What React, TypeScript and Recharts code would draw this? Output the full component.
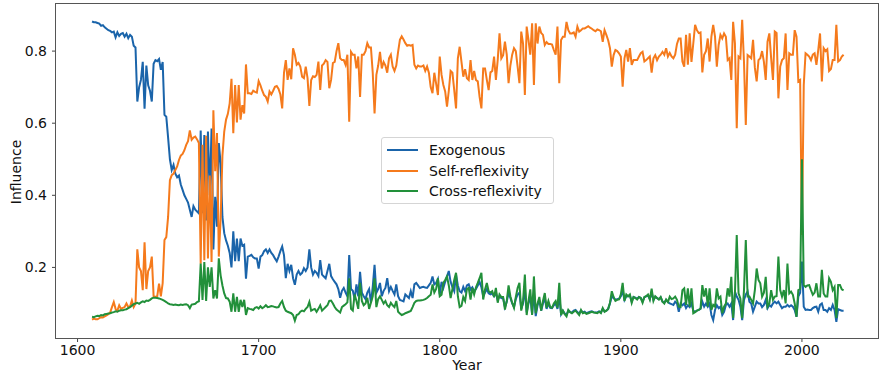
import { Line, LineChart, XAxis, YAxis } from "recharts";

// yearly series, first value is 1608
const startYear = 1608;

const exogenous = [
  0.882, 0.880,
  0.880, 0.878, 0.876, 0.870, 0.872, 0.866, 0.862, 0.858, 0.856, 0.852,
  0.854, 0.838, 0.852, 0.842, 0.848, 0.850, 0.840, 0.848, 0.836, 0.845,
  0.840, 0.815, 0.810, 0.660, 0.700, 0.720, 0.770, 0.640, 0.760, 0.705,
  0.690, 0.660, 0.765, 0.775, 0.772, 0.778, 0.748, 0.770, 0.623, 0.618,
  0.560, 0.500, 0.470, 0.484, 0.460, 0.450, 0.455, 0.430, 0.415, 0.400,
  0.390, 0.380, 0.360, 0.340, 0.370, 0.360, 0.355, 0.350, 0.580, 0.350,
  0.567, 0.330, 0.577, 0.400, 0.585, 0.250, 0.396, 0.313, 0.545, 0.488,
  0.340, 0.295, 0.275, 0.260, 0.240, 0.200, 0.300, 0.217, 0.280, 0.217,
  0.280, 0.260, 0.263, 0.169, 0.230, 0.232, 0.235, 0.228, 0.225, 0.225,
  0.197, 0.230, 0.234, 0.245, 0.250, 0.240, 0.250, 0.240, 0.234, 0.225,
  0.217, 0.230, 0.245, 0.258, 0.234, 0.170, 0.210, 0.190, 0.207, 0.170,
  0.152, 0.180, 0.190, 0.180, 0.185, 0.198, 0.190, 0.200, 0.250, 0.200,
  0.180, 0.190, 0.185, 0.176, 0.220, 0.180, 0.175, 0.170, 0.190, 0.210,
  0.176, 0.167, 0.160, 0.153, 0.140, 0.116, 0.135, 0.143, 0.130, 0.120,
  0.234, 0.140, 0.135, 0.112, 0.153, 0.120, 0.188, 0.130, 0.120, 0.112,
  0.130, 0.140, 0.102, 0.146, 0.207, 0.130, 0.140, 0.157, 0.120, 0.135,
  0.143, 0.170, 0.134, 0.146, 0.135, 0.125, 0.153, 0.120, 0.110, 0.108,
  0.106, 0.125, 0.120, 0.115, 0.134, 0.115, 0.153, 0.157, 0.150, 0.143,
  0.145, 0.146, 0.144, 0.143, 0.150, 0.157, 0.175, 0.153, 0.157, 0.168,
  0.125, 0.160, 0.143, 0.160, 0.175, 0.190, 0.160, 0.145, 0.134, 0.180,
  0.150, 0.134, 0.130, 0.146, 0.134, 0.150, 0.153, 0.139, 0.145, 0.134,
  0.140, 0.150, 0.160, 0.145, 0.120, 0.130, 0.140, 0.128, 0.125, 0.128,
  0.120, 0.130, 0.110, 0.120, 0.115, 0.114, 0.090, 0.105, 0.130, 0.115,
  0.100, 0.090, 0.112, 0.125, 0.130, 0.085, 0.100, 0.140, 0.075, 0.100,
  0.120, 0.070, 0.130, 0.065, 0.095, 0.110, 0.080, 0.100, 0.115, 0.085,
  0.100, 0.088, 0.087, 0.095, 0.100, 0.085, 0.120, 0.070, 0.080, 0.072,
  0.068, 0.080, 0.076, 0.075, 0.080, 0.082, 0.076, 0.072, 0.080, 0.075,
  0.077, 0.073, 0.075, 0.077, 0.078, 0.076, 0.075, 0.075, 0.078, 0.075,
  0.085, 0.078, 0.080, 0.085, 0.100, 0.120, 0.115, 0.110, 0.112, 0.113,
  0.120, 0.135, 0.110, 0.120, 0.120, 0.122, 0.105, 0.118, 0.116, 0.113,
  0.118, 0.115, 0.105, 0.117, 0.120, 0.122, 0.112, 0.130, 0.110, 0.118,
  0.115, 0.112, 0.117, 0.105, 0.102, 0.110, 0.104, 0.100, 0.098, 0.096,
  0.105, 0.100, 0.077, 0.100, 0.095, 0.100, 0.087, 0.095, 0.090, 0.100,
  0.080, 0.077, 0.080, 0.082, 0.085, 0.105, 0.091, 0.100, 0.091, 0.100,
  0.068, 0.054, 0.082, 0.095, 0.087, 0.091, 0.068, 0.077, 0.096, 0.100,
  0.091, 0.100, 0.054, 0.133, 0.119, 0.110, 0.091, 0.054, 0.110, 0.125,
  0.133, 0.105, 0.100, 0.077, 0.091, 0.105, 0.100, 0.100, 0.090, 0.096,
  0.110, 0.087, 0.096, 0.091, 0.100, 0.105, 0.100, 0.105, 0.096, 0.087,
  0.091, 0.091, 0.096, 0.091, 0.095, 0.091, 0.082, 0.063, 0.119, 0.130,
  0.216, 0.091, 0.082, 0.083, 0.082, 0.082, 0.087, 0.090, 0.091, 0.077,
  0.096, 0.100, 0.082, 0.082, 0.077, 0.087, 0.082, 0.096, 0.082, 0.049,
  0.084, 0.082, 0.080, 0.080,
];

const selfReflexivity = [
  0.055, 0.058,
  0.056, 0.056, 0.059, 0.062, 0.061, 0.064, 0.067, 0.070, 0.075, 0.090,
  0.104, 0.085, 0.080, 0.095, 0.085, 0.088, 0.090, 0.100, 0.090, 0.092,
  0.108, 0.090, 0.100, 0.250, 0.200, 0.190, 0.137, 0.270, 0.140, 0.190,
  0.200, 0.230, 0.120, 0.118, 0.120, 0.155, 0.120, 0.156, 0.276, 0.284,
  0.340, 0.442, 0.456, 0.460, 0.470, 0.480, 0.498, 0.510, 0.515, 0.525,
  0.540, 0.550, 0.580, 0.554, 0.560, 0.563, 0.555, 0.545, 0.210, 0.540,
  0.220, 0.565, 0.225, 0.455, 0.215, 0.636, 0.467, 0.573, 0.230, 0.334,
  0.510, 0.577, 0.610, 0.626, 0.655, 0.723, 0.572, 0.706, 0.602, 0.706,
  0.610, 0.650, 0.627, 0.763, 0.683, 0.683, 0.681, 0.690, 0.687, 0.685,
  0.717, 0.705, 0.690, 0.678, 0.673, 0.660, 0.688, 0.680, 0.690, 0.701,
  0.703, 0.695, 0.680, 0.641, 0.740, 0.775, 0.720, 0.752, 0.722, 0.808,
  0.790, 0.762, 0.767, 0.757, 0.729, 0.725, 0.757, 0.725, 0.648, 0.720,
  0.730, 0.728, 0.734, 0.771, 0.692, 0.760, 0.765, 0.775, 0.770, 0.697,
  0.720, 0.767, 0.770, 0.800, 0.822, 0.780, 0.775, 0.775, 0.762, 0.790,
  0.604, 0.798, 0.790, 0.790, 0.752, 0.785, 0.673, 0.790, 0.790, 0.800,
  0.822, 0.810, 0.810, 0.740, 0.627, 0.734, 0.760, 0.798, 0.752, 0.770,
  0.760, 0.740, 0.780, 0.790, 0.757, 0.745, 0.760, 0.798, 0.831, 0.841,
  0.832, 0.822, 0.815, 0.817, 0.815, 0.817, 0.762, 0.752, 0.760, 0.757,
  0.757, 0.760, 0.745, 0.757, 0.740, 0.700, 0.683, 0.740, 0.710, 0.678,
  0.785, 0.734, 0.706, 0.688, 0.646, 0.690, 0.745, 0.740, 0.692, 0.641,
  0.780, 0.812, 0.770, 0.729, 0.750, 0.725, 0.720, 0.775, 0.720, 0.745,
  0.720, 0.716, 0.673, 0.641, 0.752, 0.752, 0.720, 0.692, 0.741, 0.745,
  0.785, 0.720, 0.775, 0.849, 0.780, 0.789, 0.826, 0.790, 0.711, 0.760,
  0.790, 0.808, 0.800, 0.757, 0.711, 0.854, 0.821, 0.678, 0.868, 0.831,
  0.790, 0.877, 0.706, 0.877, 0.821, 0.868, 0.850, 0.845, 0.817, 0.825,
  0.820, 0.820, 0.818, 0.803, 0.790, 0.868, 0.711, 0.831, 0.840, 0.840,
  0.881, 0.858, 0.849, 0.849, 0.852, 0.840, 0.868, 0.854, 0.858, 0.863,
  0.863, 0.866, 0.869, 0.865, 0.862, 0.858, 0.855, 0.860, 0.858, 0.855,
  0.826, 0.858, 0.845, 0.830, 0.808, 0.757, 0.789, 0.803, 0.800, 0.794,
  0.785, 0.701, 0.780, 0.803, 0.771, 0.808, 0.762, 0.775, 0.775, 0.775,
  0.785, 0.794, 0.798, 0.771, 0.775, 0.780, 0.785, 0.740, 0.780, 0.789,
  0.775, 0.785, 0.790, 0.798, 0.790, 0.808, 0.785, 0.795, 0.785, 0.780,
  0.790, 0.820, 0.835, 0.835, 0.771, 0.757, 0.845, 0.762, 0.849, 0.770,
  0.821, 0.873, 0.858, 0.850, 0.852, 0.741, 0.790, 0.800, 0.835, 0.771,
  0.840, 0.873, 0.840, 0.757, 0.817, 0.845, 0.835, 0.849, 0.840, 0.775,
  0.780, 0.720, 0.881, 0.821, 0.586, 0.785, 0.780, 0.887, 0.770, 0.595,
  0.789, 0.785, 0.780, 0.831, 0.754, 0.716, 0.775, 0.780, 0.800, 0.770,
  0.720, 0.826, 0.849, 0.780, 0.720, 0.854, 0.850, 0.669, 0.757, 0.775,
  0.780, 0.849, 0.692, 0.794, 0.790, 0.790, 0.858, 0.840, 0.716, 0.720,
  0.290, 0.706, 0.794, 0.790, 0.785, 0.775, 0.790, 0.794, 0.762, 0.803,
  0.849, 0.716, 0.808, 0.800, 0.805, 0.745, 0.750, 0.775, 0.775, 0.873,
  0.771, 0.775, 0.785, 0.790,
];

const crossReflexivity = [
  0.063, 0.062,
  0.064, 0.066, 0.065, 0.068, 0.067, 0.070, 0.071, 0.072, 0.073, 0.075,
  0.076, 0.078, 0.077, 0.080, 0.081, 0.081, 0.083, 0.084, 0.087, 0.090,
  0.094, 0.098, 0.100, 0.102, 0.099, 0.103, 0.106, 0.104, 0.108, 0.107,
  0.110, 0.114, 0.116, 0.116, 0.115, 0.114, 0.112, 0.110, 0.107, 0.104,
  0.100, 0.098, 0.097, 0.096, 0.097, 0.096, 0.095, 0.097, 0.096, 0.097,
  0.098, 0.095, 0.087, 0.097, 0.098, 0.099, 0.104, 0.106, 0.211, 0.110,
  0.215, 0.107, 0.200, 0.146, 0.200, 0.114, 0.137, 0.114, 0.225, 0.178,
  0.150, 0.128, 0.115, 0.114, 0.105, 0.077, 0.128, 0.077, 0.118, 0.077,
  0.110, 0.090, 0.110, 0.068, 0.087, 0.085, 0.084, 0.082, 0.088, 0.090,
  0.086, 0.092, 0.087, 0.090, 0.095, 0.090, 0.091, 0.093, 0.092, 0.090,
  0.089, 0.090, 0.100, 0.107, 0.090, 0.080, 0.077, 0.075, 0.073, 0.068,
  0.052, 0.068, 0.070, 0.077, 0.080, 0.078, 0.085, 0.090, 0.104, 0.080,
  0.083, 0.085, 0.077, 0.085, 0.095, 0.080, 0.085, 0.090, 0.095, 0.107,
  0.108, 0.100, 0.090, 0.083, 0.079, 0.075, 0.090, 0.094, 0.098, 0.103,
  0.170, 0.085, 0.080, 0.125, 0.107, 0.085, 0.157, 0.107, 0.095, 0.100,
  0.116, 0.085, 0.102, 0.120, 0.170, 0.090, 0.112, 0.120, 0.110, 0.100,
  0.107, 0.095, 0.090, 0.102, 0.095, 0.090, 0.107, 0.077, 0.072, 0.068,
  0.070, 0.073, 0.075, 0.077, 0.079, 0.090, 0.102, 0.107, 0.108, 0.108,
  0.109, 0.110, 0.112, 0.115, 0.120, 0.124, 0.153, 0.130, 0.140, 0.170,
  0.120, 0.124, 0.157, 0.165, 0.175, 0.150, 0.115, 0.140, 0.165, 0.185,
  0.120, 0.090, 0.093, 0.118, 0.107, 0.140, 0.143, 0.111, 0.143, 0.125,
  0.145, 0.157, 0.170, 0.185, 0.111, 0.139, 0.157, 0.134, 0.130, 0.134,
  0.118, 0.143, 0.102, 0.125, 0.118, 0.118, 0.083, 0.107, 0.150, 0.120,
  0.102, 0.088, 0.118, 0.143, 0.157, 0.080, 0.107, 0.180, 0.068, 0.107,
  0.139, 0.068, 0.175, 0.073, 0.100, 0.118, 0.080, 0.107, 0.129, 0.088,
  0.107, 0.090, 0.088, 0.100, 0.107, 0.088, 0.157, 0.068, 0.080, 0.070,
  0.064, 0.082, 0.076, 0.073, 0.077, 0.080, 0.074, 0.068, 0.082, 0.073,
  0.075, 0.071, 0.073, 0.075, 0.077, 0.075, 0.074, 0.073, 0.077, 0.073,
  0.087, 0.077, 0.080, 0.085, 0.102, 0.134, 0.118, 0.107, 0.110, 0.111,
  0.125, 0.157, 0.107, 0.125, 0.120, 0.125, 0.102, 0.118, 0.115, 0.111,
  0.118, 0.115, 0.102, 0.118, 0.120, 0.125, 0.111, 0.141, 0.107, 0.120,
  0.115, 0.111, 0.118, 0.105, 0.100, 0.111, 0.104, 0.119, 0.112, 0.114,
  0.119, 0.110, 0.091, 0.090, 0.137, 0.142, 0.096, 0.142, 0.091, 0.142,
  0.073, 0.076, 0.080, 0.082, 0.086, 0.151, 0.119, 0.142, 0.091, 0.142,
  0.082, 0.096, 0.091, 0.142, 0.114, 0.119, 0.073, 0.091, 0.100, 0.142,
  0.119, 0.174, 0.060, 0.128, 0.290, 0.128, 0.114, 0.059, 0.137, 0.276,
  0.119, 0.119, 0.110, 0.100, 0.137, 0.197, 0.165, 0.156, 0.119, 0.130,
  0.174, 0.091, 0.100, 0.137, 0.110, 0.119, 0.120, 0.230, 0.137, 0.119,
  0.137, 0.100, 0.211, 0.128, 0.133, 0.124, 0.100, 0.063, 0.137, 0.140,
  0.500, 0.151, 0.146, 0.150, 0.151, 0.137, 0.124, 0.130, 0.156, 0.119,
  0.119, 0.193, 0.128, 0.119, 0.119, 0.170, 0.160, 0.137, 0.146, 0.060,
  0.151, 0.151, 0.139, 0.136,
];

const xTicks = [1600, 1700, 1800, 1900, 2000];
const yTicks = [0.2, 0.4, 0.6, 0.8];

const series = [
  { key: "exo", name: "Exogenous", color: "#1a64aa" },
  { key: "self", name: "Self-reflexivity", color: "#f57a1c" },
  { key: "cross", name: "Cross-reflexivity", color: "#22903a" },
];

const data = exogenous.map((v, i) => ({
  year: startYear + i,
  exo: v,
  self: selfReflexivity[i],
  cross: crossReflexivity[i],
}));

const FONT = "'DejaVu Sans', sans-serif";
const tickStyle = { fontSize: 14, fill: "#111", fontFamily: FONT };

export default function App() {
  return (
    <div
      style={{
        position: "absolute",
        left: 0,
        top: 0,
        width: 879,
        height: 376,
        background: "#fff",
        fontFamily: FONT,
        overflow: "hidden",
      }}
    >
      <LineChart width={879} height={376} data={data} margin={{ top: 3, right: 1, bottom: 0, left: 0 }}>
        <XAxis
          dataKey="year"
          type="number"
          domain={[1588.1, 2042]}
          allowDataOverflow
          ticks={xTicks}
          height={38}
          axisLine={false}
          tickLine={{ stroke: "#444" }}
          tickSize={4}
          tickMargin={3}
          tick={tickStyle}
        />
        <YAxis
          type="number"
          domain={[0.0042, 0.9334]}
          allowDataOverflow
          ticks={yTicks}
          width={56}
          axisLine={false}
          tickLine={{ stroke: "#444" }}
          tickSize={4}
          tickMargin={5}
          tick={tickStyle}
          tickFormatter={(v: number) => v.toFixed(1)}
        />
        {series.map((s) => (
          <Line
            key={s.key}
            dataKey={s.key}
            name={s.name}
            type="linear"
            stroke={s.color}
            strokeWidth={2}
            dot={false}
            isAnimationActive={false}
          />
        ))}
      </LineChart>

      {/* axes frame */}
      <div
        style={{
          position: "absolute",
          left: 55,
          top: 3,
          width: 824,
          height: 336,
          boxSizing: "border-box",
          border: "1px solid #555",
          pointerEvents: "none",
        }}
      />

      {/* axis titles */}
      <div
        style={{
          position: "absolute",
          left: 417,
          top: 355,
          width: 100,
          lineHeight: "20px",
          fontSize: 14,
          textAlign: "center",
          color: "#111",
        }}
      >
        Year
      </div>
      <div
        style={{
          position: "absolute",
          left: -34,
          top: 162,
          width: 100,
          lineHeight: "20px",
          fontSize: 14,
          textAlign: "center",
          color: "#111",
          transform: "rotate(-90deg)",
        }}
      >
        Influence
      </div>

      {/* legend */}
      <div
        style={{
          position: "absolute",
          left: 381,
          top: 137,
          width: 173,
          height: 67,
          boxSizing: "border-box",
          border: "1px solid #d5d5d5",
          borderRadius: 3,
          background: "rgba(255,255,255,0.85)",
        }}
      >
        {series.map((s, i) => (
          <div
            key={s.key}
            style={{ position: "absolute", left: 0, top: 2 + i * 20.5, height: 20, width: "100%" }}
          >
            <div
              style={{
                position: "absolute",
                left: 5,
                top: 9,
                width: 31,
                height: 2,
                background: s.color,
              }}
            />
            <div
              style={{
                position: "absolute",
                left: 47,
                top: 0,
                lineHeight: "20px",
                fontSize: 14,
                color: "#111",
                whiteSpace: "nowrap",
              }}
            >
              {s.name}
            </div>
          </div>
        ))}
      </div>
    </div>
  );
}
